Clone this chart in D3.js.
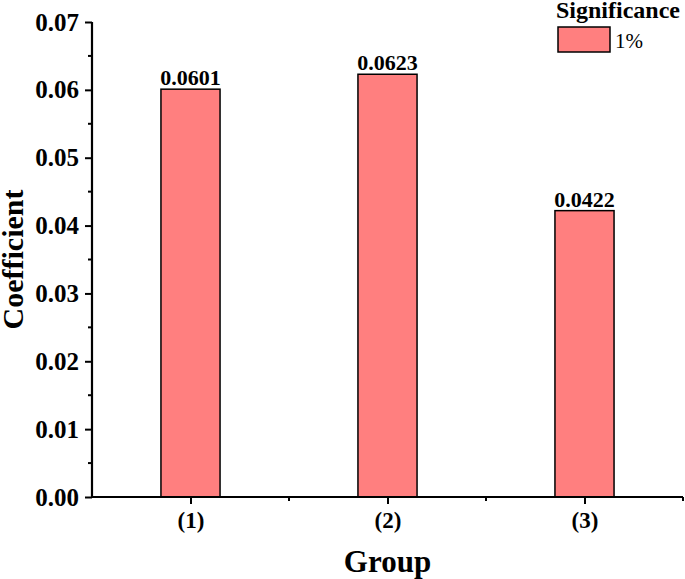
<!DOCTYPE html>
<html>
<head>
<meta charset="utf-8">
<script src="https://cdn.jsdelivr.net/npm/d3@7"></script>
<style>
html,body{margin:0;padding:0;background:#fff;}
svg{display:block;font-family:"Liberation Serif","Times New Roman",serif;}
</style>
</head>
<body>
<svg id="chart" width="685" height="579"></svg>
<script>
const categories = ["(1)", "(2)", "(3)"];
const values = [0.0601, 0.0623, 0.0422];
const valueLabels = ["0.0601", "0.0623", "0.0422"];
const yTicks = [0, 0.01, 0.02, 0.03, 0.04, 0.05, 0.06, 0.07];
const legendTitle = "Significance";
const legendLabel = "1%";

(function () {
const svg = d3.select("#chart");
const mLeft = 92, mRight = 683, mTop = 22, mBottom = 497;
const barColor = "#FF7F7F";

const x = d3.scaleLinear().domain([-0.5, 2.5]).range([mLeft, mRight]);
const y = d3.scaleLinear().domain([0, 0.07]).range([mBottom, mTop]);
const barW = (x(1) - x(0)) * 0.3;

// bars
svg.append("g").selectAll("rect").data(values).join("rect")
  .attr("x", (d, i) => x(i) - barW / 2)
  .attr("y", d => y(d))
  .attr("width", barW)
  .attr("height", d => y(0) - y(d))
  .attr("fill", barColor)
  .attr("stroke", "#000")
  .attr("stroke-width", 1.5);

// value labels
svg.append("g").selectAll("text").data(values).join("text")
  .attr("x", (d, i) => x(i))
  .attr("y", d => y(d) - 4)
  .attr("text-anchor", "middle")
  .attr("font-weight", "bold")
  .attr("font-size", 22)
  .text((d, i) => valueLabels[i]);

// y axis
const yAxis = d3.axisLeft(y).tickValues(yTicks).tickFormat(d3.format(".2f")).tickSize(7).tickPadding(6);
const gy = svg.append("g").attr("transform", `translate(${mLeft},0)`).call(yAxis);
const minorY = d3.range(0, 7).map(i => (i + 0.5) / 100);
gy.selectAll(".minor").data(minorY).join("line").attr("class", "minor")
  .attr("x1", -4).attr("x2", 0).attr("y1", d => y(d)).attr("y2", d => y(d))
  .attr("stroke", "#000").attr("stroke-width", 2);

// x axis
const xAxis = d3.axisBottom(x).tickValues([0, 1, 2]).tickFormat(i => categories[i]).tickSize(7).tickPadding(8);
const gx = svg.append("g").attr("transform", `translate(0,${mBottom})`).call(xAxis);
const minorX = [0.5, 1.5, 2.5];
gx.selectAll(".minor").data(minorX).join("line").attr("class", "minor")
  .attr("y1", 0).attr("y2", 4).attr("x1", d => x(d)).attr("x2", d => x(d))
  .attr("stroke", "#000").attr("stroke-width", 2);

[gx, gy].forEach(g => {
  g.select(".domain").attr("stroke", "#000").attr("stroke-width", 2.2);
  g.selectAll(".tick line").attr("stroke", "#000").attr("stroke-width", 2);
  g.selectAll(".tick text").attr("fill", "#000").attr("font-family", "Liberation Serif, Times New Roman, serif")
    .attr("font-weight", "bold");
});
gy.selectAll(".tick text").attr("font-size", 25);
gx.selectAll(".tick text").attr("font-size", 23);
gy.select(".domain").attr("d", `M0,${mBottom}V${mTop}`);
gx.select(".domain").attr("d", `M${mLeft},0H${mRight}`);

// axis titles
svg.append("text")
  .attr("transform", `translate(23,${(mTop + mBottom) / 2}) rotate(-90)`)
  .attr("text-anchor", "middle")
  .attr("font-weight", "bold").attr("font-size", 30)
  .text("Coefficient");
svg.append("text")
  .attr("x", (mLeft + mRight) / 2).attr("y", 572)
  .attr("text-anchor", "middle")
  .attr("font-weight", "bold").attr("font-size", 31)
  .text("Group");

// legend
svg.append("text").attr("x", 556).attr("y", 18)
  .attr("font-weight", "bold").attr("font-size", 24).text(legendTitle);
svg.append("rect").attr("x", 558).attr("y", 27).attr("width", 52).attr("height", 25)
  .attr("fill", barColor).attr("stroke", "#000").attr("stroke-width", 1.5);
svg.append("text").attr("x", 615).attr("y", 48)
  .attr("font-size", 21).text(legendLabel);
})();
</script>
</body>
</html>
